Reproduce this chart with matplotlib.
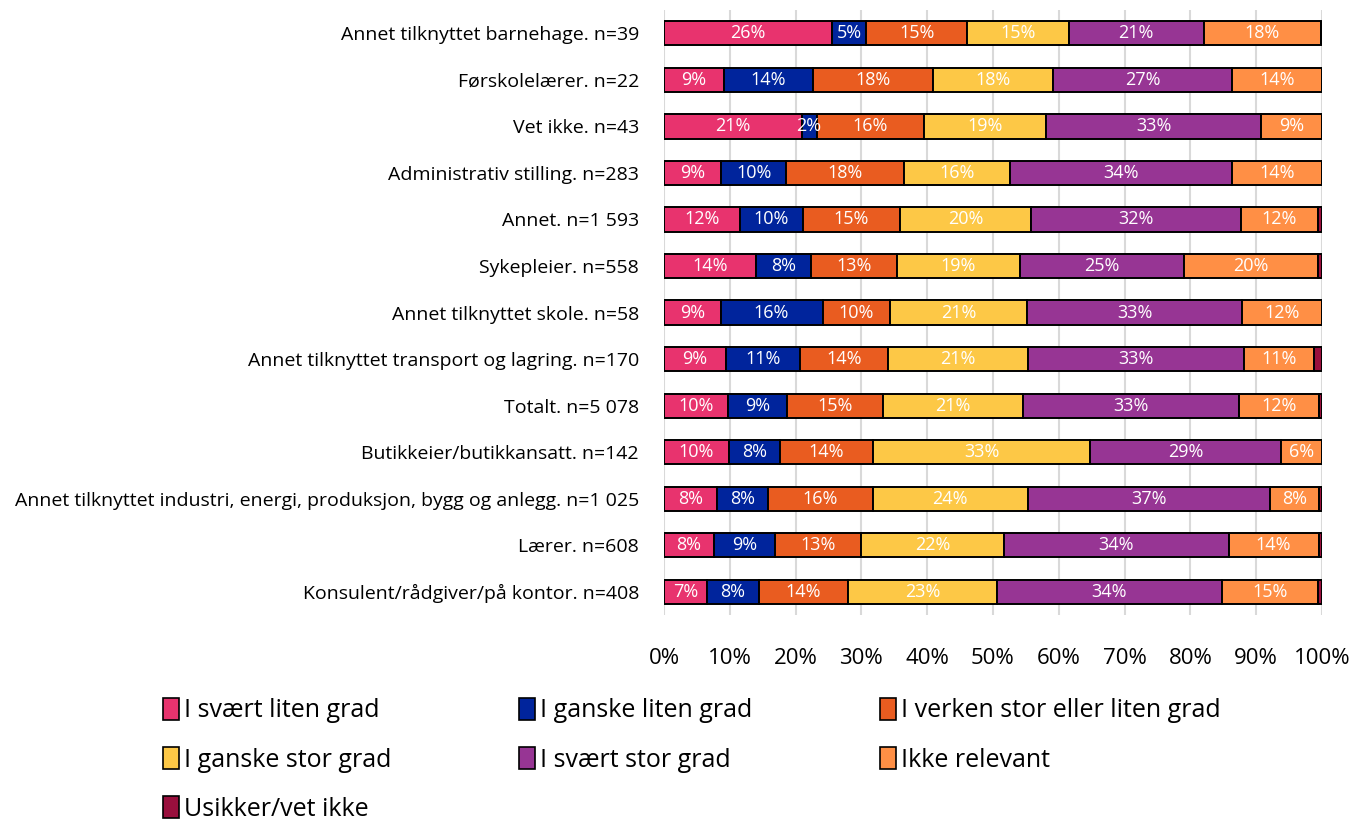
import matplotlib
matplotlib.use("Agg")
import matplotlib.pyplot as plt
from matplotlib.patches import Patch
import numpy as np

plt.rcParams["font.family"] = ["Open Sans", "DejaVu Sans"]

# categories, top to bottom
categories = [
    "Annet tilknyttet barnehage. n=39",
    "Førskolelærer. n=22",
    "Vet ikke. n=43",
    "Administrativ stilling. n=283",
    "Annet. n=1 593",
    "Sykepleier. n=558",
    "Annet tilknyttet skole. n=58",
    "Annet tilknyttet transport og lagring. n=170",
    "Totalt. n=5 078",
    "Butikkeier/butikkansatt. n=142",
    "Annet tilknyttet industri, energi, produksjon, bygg og anlegg. n=1 025",
    "Lærer. n=608",
    "Konsulent/rådgiver/på kontor. n=408",
]

series_names = [
    "I svært liten grad",
    "I ganske liten grad",
    "I verken stor eller liten grad",
    "I ganske stor grad",
    "I svært stor grad",
    "Ikke relevant",
    "Usikker/vet ikke",
]

colors = ["#E8336E", "#00249C", "#E95C20", "#FDC846", "#973594", "#FF8F45", "#990F3D"]

# percentages per series, same order as categories
svaert_liten = [25.6, 9.1, 20.9, 8.7, 11.5, 14.0, 8.6, 9.4, 9.8, 9.9, 8.0, 7.6, 6.6]
ganske_liten = [5.1, 13.6, 2.3, 9.9, 9.6, 8.3, 15.5, 11.2, 8.9, 7.7, 7.8, 9.2, 7.8]
verken = [15.4, 18.2, 16.3, 17.8, 14.8, 13.1, 10.3, 13.5, 14.6, 14.1, 15.9, 13.2, 13.6]
ganske_stor = [15.4, 18.2, 18.6, 16.2, 19.9, 18.7, 20.7, 21.2, 21.2, 33.1, 23.6, 21.7, 22.6]
svaert_stor = [20.5, 27.3, 32.6, 33.8, 31.9, 25.0, 32.8, 32.9, 32.9, 28.9, 36.8, 34.1, 34.2]
ikke_relevant = [17.9, 13.6, 9.3, 13.6, 11.7, 20.3, 12.1, 10.6, 12.1, 6.3, 7.5, 13.7, 14.6]
usikker = [0.0, 0.0, 0.0, 0.0, 0.6, 0.6, 0.0, 1.2, 0.5, 0.0, 0.4, 0.5, 0.6]

series = [svaert_liten, ganske_liten, verken, ganske_stor, svaert_stor, ikke_relevant, usikker]

fig = plt.figure(figsize=(13.51, 8.26), dpi=100)
ax = fig.add_axes([0.4915, 0.2554, 0.4870, 0.7324])

y = np.arange(len(categories))
left = np.zeros(len(categories))
for name, vals, col in zip(series_names, series, colors):
    vals = np.array(vals)
    ax.barh(y, vals, left=left, height=0.52, color=col, edgecolor="black",
            linewidth=1.4, label=name, zorder=3)
    for yi, (l, v) in enumerate(zip(left, vals)):
        if v >= 1.5:
            ax.text(l + v / 2, yi, f"{int(np.floor(v + 0.5))}%", ha="center",
                    va="center", color="white", fontsize=13, zorder=4)
    left += vals

ax.set_xlim(0, 100)
ax.set_ylim(len(categories) - 0.5, -0.5)
ax.set_yticks(y)
ax.set_yticklabels(categories, fontsize=14)
ax.set_xticks(np.arange(0, 101, 10))
ax.set_xticklabels([f"{t}%" for t in range(0, 101, 10)], fontsize=16)
ax.tick_params(axis="both", length=0)
ax.tick_params(axis="x", pad=24)
ax.tick_params(axis="y", pad=18)
ax.grid(axis="x", color="#D9D9D9", linewidth=1.5, zorder=0)
for s in ax.spines.values():
    s.set_visible(False)

# legend filled row by row (matplotlib fills columns first)
handles = [Patch(facecolor=c, edgecolor="black", linewidth=1.2) for c in colors]
order = [0, 3, 6, 1, 4, 2, 5]
fig.legend([handles[i] for i in order], [series_names[i] for i in order],
           loc="upper left", bbox_to_anchor=(0.113, 0.167), ncol=3, frameon=False,
           fontsize=18, handlelength=0.65, handleheight=0.95, handletextpad=0.2,
           columnspacing=5.1, labelspacing=0.95, borderaxespad=0)

fig.savefig("out.png", dpi=100)
